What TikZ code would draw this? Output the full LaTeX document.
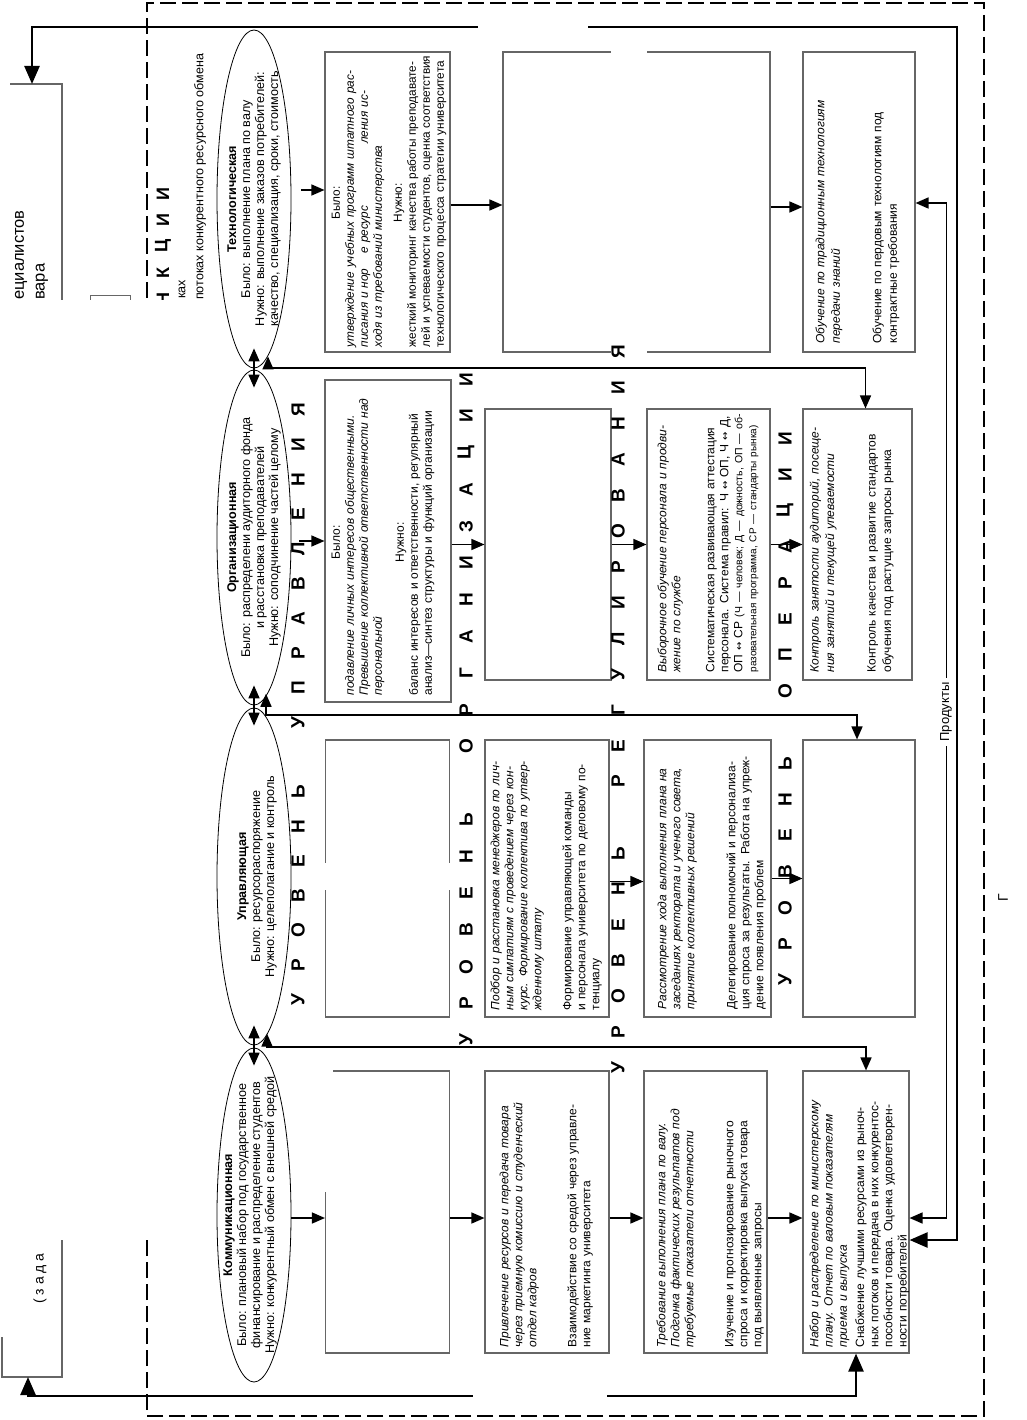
\documentclass[tikz,border=0pt]{standalone}
\usepackage{fontspec}
\setmainfont{Liberation Sans}
\newfontfamily\dvfont{DejaVu Sans}
\usetikzlibrary{arrows.meta,shapes.geometric,calc}
\setlength{\parindent}{0pt}
\newcommand\jl[1]{\makebox[\hsize][s]{#1}\par}
\newcommand\cl[1]{\makebox[\hsize]{#1}\par}
\newcommand\lastl[1]{\mbox{#1}\par}
\newcommand\lr{{\dvfont\fontsize{10}{12}\selectfont ↔}}
\tikzset{
  frame/.style={line width=2.6pt, dash pattern=on 16pt off 6pt},
  ell/.style={draw=black, ellipse, line width=0.8pt, inner sep=0pt, minimum width=74pt},
  etxt/.style={rotate=90, align=center, font=\fontsize{12.6}{14}\selectfont, inner sep=0pt},
  box/.style={draw=black!60, line width=1.1pt, inner sep=0pt},
  btxt/.style={rotate=90, anchor=north west, align=left, font=\fontsize{12}{14}\selectfont, inner sep=0pt},
  big/.style={rotate=90, font=\fontsize{19}{19}\selectfont\bfseries, inner sep=0pt},
  bigs/.style={rotate=90, font=\fontsize{18}{18}\selectfont\bfseries, inner sep=0pt},
  arr/.style={line width=1.4pt, -{Triangle[length=13pt,width=11pt]}},
  dbl/.style={line width=1.6pt, {Triangle[length=13pt,width=11pt]}-{Triangle[length=13pt,width=11pt]}},
  heavy/.style={line width=2.4pt, {Triangle[length=18pt,width=15pt]}-{Triangle[length=18pt,width=15pt]}},
  thinbox/.style={draw=black!60, line width=1.1pt},
  lbl/.style={rotate=90, inner sep=0pt}
}
\begin{document}
\begin{tikzpicture}[x=1pt,y=-1pt]
\useasboundingbox (0,0) rectangle (1026,1420);
\fill[white] (0,0) rectangle (1026,1420);

% dashed frame
\draw[frame] (147,320) -- (147,3) -- (984,3) -- (984,1416) -- (147,1416) -- (147,1230);

% ellipses
\node[ell, minimum height=338pt] (tE) at (254,199) {};
\node[ell, minimum height=335pt] (oE) at (254,537.5) {};
\node[ell, minimum height=337pt] (uE) at (254,876.5) {};
\node[ell, minimum height=334pt] (cE) at (254,1215) {};

\node[etxt] (tEt) at (tE) {\textbf{Технологическая}\\Было: выполнение плана по валу\\Нужно: выполнение заказов потребителей:\\качество, специализация, сроки, стоимость};
\node[etxt] (oEt) at (oE) {\textbf{Организационная}\\Было: распределени аудиторного фонда\\и расстановка преподавателей\\Нужно: соподчинение частей целому};
\node[etxt] (uEt) at ($(uE)+(3,0)$) {\textbf{Управляющая}\\Было: ресурсораспоряжение\\Нужно: целеполагание и контроль};
\node[etxt] (cEt) at ($(cE)+(-4,0)$) {\textbf{Коммуникационная}\\Было: плановый набор под государственное\\финансирование и распределение студентов\\Нужно: конкурентный обмен с внешней средой};

% boxes
\node[box, minimum width=125pt, minimum height=300pt] (t1) at (387.5,202) {};
\node[box, minimum width=267pt, minimum height=300pt] (t23) at (636.5,202) {};
\node[box, minimum width=112pt, minimum height=300pt] (t4) at (859,202) {};
\node[box, minimum width=126pt, minimum height=322pt] (o1) at (388,541) {};
\node[box, minimum width=126pt, minimum height=271pt] (o2) at (548,544.5) {};
\node[box, minimum width=123pt, minimum height=271pt] (o3) at (708.5,544.5) {};
\node[box, minimum width=109pt, minimum height=271pt] (o4) at (857.5,544.5) {};
\node[box, minimum width=124pt, minimum height=277pt] (u1) at (387.5,878.5) {};
\node[box, minimum width=124pt, minimum height=277pt] (u2) at (547,878.5) {};
\node[box, minimum width=127pt, minimum height=277pt] (u3) at (707.5,878.5) {};
\node[box, minimum width=112pt, minimum height=277pt] (u4) at (859,878.5) {};
\node[box, minimum width=124pt, minimum height=282pt] (c1) at (387.5,1212) {};
\node[box, minimum width=124pt, minimum height=282pt] (c2) at (547,1212) {};
\node[box, minimum width=123pt, minimum height=282pt] (c3) at (705.5,1212) {};
\node[box, minimum width=106pt, minimum height=282pt] (c4) at (856,1212) {};

% box texts
\node[btxt, text width=289pt, font=\fontsize{11.8}{14}\selectfont] (t1t) at ($(t1.south west)+(7,-5)$) {%
\cl{Было:}
\jl{\itshape утверждение учебных программ штатного рас-}
\jl{\itshape писания и нор\hspace{15pt}е ресурс\hspace{62pt}ления ис-}
\lastl{\itshape ходя из требований министерства}
\vspace{6pt}
\cl{Нужно:}
\jl{жесткий мониторинг качества работы преподавате-}
\jl{лей и успеваемости студентов, оценка соответствия}
\jl{технологического процесса стратегии университета}};

\node[btxt, text width=258pt, font=\fontsize{12}{15.5}\selectfont] (t4t) at ($(t4.south west)+(13,-9)$) {%
\jl{\itshape Обучение по традиционным технологиям}
\lastl{\itshape передачи знаний}
\vspace{26pt}
\jl{Обучение по пердовым технологиям под}
\lastl{контрактные требования}};

\node[btxt, text width=306pt] (o1t) at ($(o1.south west)+(7,-7)$) {%
\cl{Было:}
\jl{\itshape подавление личных интересов общественными.}
\jl{\itshape Превышение коллективной ответственности над}
\lastl{\itshape персональной}
\vspace{8pt}
\cl{Нужно:}
\jl{баланс интересов и ответственности, регулярный}
\jl{анализ—синтез структуры и функций организации}};

\node[btxt, text width=255pt] (o3t) at ($(o3.south west)+(11,-8)$) {%
\jl{\itshape Выборочное обучение персонала и продви-}
\lastl{\itshape жение по службе}
\vspace{20pt}
\jl{Систематическая развивающая аттестация}
\jl{персонала. Система правил: Ч \lr{} ОП, Ч \lr{} Д,}
\jl{ОП \lr{} СР {\fontsize{10.5}{12}\selectfont (Ч — человек; Д — дожность, ОП — об-}}
\jl{\fontsize{10}{12}\selectfont разовательная программа, СР — стандарты рынка)}};

\node[btxt, text width=255pt, font=\fontsize{12}{15.5}\selectfont] (o4t) at ($(o4.south west)+(7,-8)$) {%
\jl{\itshape Контроль занятости аудиторий, посеще-}
\lastl{\itshape ния занятий и текущей упеваемости}
\vspace{26pt}
\jl{Контроль качества и развитие стандартов}
\lastl{обучения под растущие запросы рынка}};

\node[btxt, text width=258pt] (u2t) at ($(u2.south west)+(6,-7)$) {%
\jl{\itshape Подбор и расстановка менеджеров по лич-}
\jl{\itshape ным симпатиям с проведением через кон-}
\jl{\itshape курс. Формирование коллектива по утвер-}
\lastl{\itshape жденному штату}
\vspace{16pt}
\jl{Формирование управляющей команды}
\jl{и персонала университета по деловому по-}
\lastl{тенциалу}};

\node[btxt, text width=258pt] (u3t) at ($(u3.south west)+(14,-8)$) {%
\jl{\itshape Рассмотрение хода выполнения плана на}
\jl{\itshape заседаниях ректората и ученого совета,}
\lastl{\itshape принятие коллективных решений}
\vspace{27pt}
\jl{Делегирование полномочий и персонализа-}
\jl{ция спроса за результаты. Работа на упреж-}
\lastl{дение появления проблем}};

\node[btxt, text width=259pt] (c2t) at ($(c2.south west)+(15,-6)$) {%
\jl{\itshape Привлечение ресурсов и передача товара}
\jl{\itshape через приемную комиссию и студенческий}
\lastl{\itshape отдел кадров}
\vspace{26pt}
\jl{Взаимодействие со средой через управле-}
\lastl{ние маркетинга университета}};

\node[btxt, text width=259pt] (c3t) at ($(c3.south west)+(13,-6)$) {%
\jl{\itshape Требование выполнения плана по валу.}
\jl{\itshape Подгонка фактических результатов под}
\lastl{\itshape требуемые показатели отчетности}
\vspace{26pt}
\jl{Изучение и прогнозирование рыночного}
\jl{спроса и корректировка выпуска товара}
\lastl{под выявленные запросы}};

\node[btxt, text width=259pt, font=\fontsize{12}{14.2}\selectfont] (c4t) at ($(c4.south west)+(7,-6)$) {%
\jl{\itshape Набор и распределение по министерскому}
\jl{\itshape плану. Отчет по валовым показателям}
\lastl{\itshape приема и выпуска}
\vspace{3pt}
\jl{Снабжение лучшими ресурсами из рыноч-}
\jl{ных потоков и передача в них конкурентос-}
\jl{пособности товара. Оценка удовлетворен-}
\lastl{ности потребителей}};

% arrows ellipse -> first box
\coordinate (tEo) at ($(tE.east)+(10,0)$);
\coordinate (oEo) at ($(oE.east)+(8,0)$);
\coordinate (cEo) at ($(cE.east)+(0,0)$);
\coordinate (t1in) at ($(t1.west)+(0,-12)$);
\coordinate (c1in) at ($(c1.west)+(0,6)$);
\draw[arr] (tEo |- t1in) -- (t1in);
\draw[arr] (oEo |- o1.west) -- (o1.west);
\draw[arr] (cEo |- c1in) -- (c1in);

% arrows along rows
\draw[arr] ($(t1.east)+(0,3)$) -- ($(t23.west)+(0,3)$);
\draw[arr] ($(t23.east)+(0,5)$) -- ($(t4.west)+(0,5)$);
\draw[arr] (o1.east |- o2.west) -- (o2.west);
\draw[arr] (o2.east) -- (o3.west);
\draw[arr] (o3.east) -- (o4.west);
\draw[arr] ($(u2.east)+(0,3)$) -- ($(u3.west)+(0,3)$);
\draw[arr] (u3.east) -- (u4.west);
\draw[arr] ($(c1.east)+(0,6)$) -- ($(c2.west)+(0,6)$);
\draw[arr] ($(c2.east)+(0,6)$) -- ($(c3.west)+(0,6)$);
\draw[arr] ($(c3.east)+(0,6)$) -- ($(c4.west)+(0,6)$);

% double arrows between ellipses
\draw[dbl] ([yshift=20pt]tE.south) -- ([yshift=-18pt]oE.north);
\draw[dbl] ([yshift=20pt]oE.south) -- ([yshift=-18pt]uE.north);
\draw[dbl] ([yshift=20pt]uE.south) -- ([yshift=-18pt]cE.north);

% junction connectors to 4th column
\coordinate (j1) at (268,368);
\coordinate (j2) at (266,715);
\coordinate (j3) at (267,1047);
\draw[dbl] (j1 |- tE.-85) -- (j1) -| ($(o4.north)+(8,0)$);
\draw[dbl] (j2 |- oE.-85) -- (j2) -| ($(u4.north)+(-2,0)$);
\draw[dbl] (j3 |- uE.-85) -- (j3) -| ($(c4.north)+(10,0)$);

% left boxes (cut)
\coordinate (lb) at (32,84);
\coordinate (bl) at (28,1377);
\draw[thinbox] (10,84) -- (62,84) -- (62,320);
\draw[thinbox] (62,1240) -- (62,1377) -- (2,1377) -- (2,1337);
\draw[black!60, line width=1pt] (90,300) -- (90,296) -- (130,296) -- (130,300);

% long connectors
\coordinate (tr) at (957,27);
\coordinate (c4r2) at ($(c4.east)+(0,28)$);
\coordinate (c4r1) at ($(c4.east)+(0,6)$);
\coordinate (t4r) at ($(t4.east)+(0,1)$);
\coordinate (bb) at (28,1396);
\draw[heavy] (lb) |- (tr) |- (c4r2);
\draw[dbl] (t4r) -- +(31,0) |- (c4r1);
\draw[heavy] (c4.south) |- (bb) -- (bl);
\node[lbl, fill=white, inner xsep=5pt, inner ysep=2pt, font=\fontsize{13}{13}\selectfont] (prod) at (946,712) {Продукты};

% heading letters cut by the erased strip
\foreach \ch [count=\i from 0] in {Н,К,Ц,И,И}
  \node[bigs] (lf\i) at (163,{299-\i*26.3}) {\ch};

% erased areas of the scan
\fill[white] (0,300) rectangle (208,1240);
\fill[white] (478,17) rectangle (588,37);
\fill[white] (473,1386) rectangle (607,1406);
\fill[white] (611,45) rectangle (647,359);
\fill[white] (318,863) rectangle (456,890);
\fill[white] (319,1068) rectangle (333,1192);

% big spaced letters
\foreach \ch [count=\i from 0] in {У,Р,О,В,Е,Н,Ь,{},У,П,Р,А,В,Л,Е,Н,И,Я}
  \node[big] (la\i) at (298,{1000-\i*34.7}) {\ch};
\foreach \ch [count=\i from 0] in {У,Р,О,В,Е,Н,Ь,{},О,Р,Г,А,Н,И,З,А,Ц,И,И}
  \node[big] (lb\i) at (466,{1040-\i*36.7}) {\ch};
\foreach \ch [count=\i from 0] in {У,Р,О,В,Е,Н,Ь,{},Р,Е,Г,У,Л,И,Р,О,В,А,Н,И,Я}
  \node[big] (lc\i) at (618,{1068-\i*35.8}) {\ch};
\foreach \ch [count=\i from 0] in {У,Р,О,В,Е,Н,Ь,{},О,П,Е,Р,А,Ц,И,И}
  \node[big] (ld\i) at (785,{980-\i*36.1}) {\ch};

% left texts
\node[lbl, anchor=west, font=\fontsize{16.5}{16.5}\selectfont] (spec) at (21,300) {ециалистов};
\node[lbl, anchor=west, font=\fontsize{16.5}{16.5}\selectfont] (tov) at (42,300) {вара};
\node[lbl, anchor=west, font=\fontsize{12.5}{12.5}\selectfont] (kah) at (182,299) {ках};
\node[lbl, anchor=west, font=\fontsize{12.5}{12.5}\selectfont] (potok) at (200,300) {потоках конкурентного ресурсного обмена};
\node[lbl, anchor=west, font=\fontsize{14}{14}\selectfont] (zad) at (40,1304) {(\ з\ а\ д\ а};
\node[lbl, font=\fontsize{14}{14}\selectfont] (capg) at (1003,898) {Г};
\end{tikzpicture}
\end{document}
